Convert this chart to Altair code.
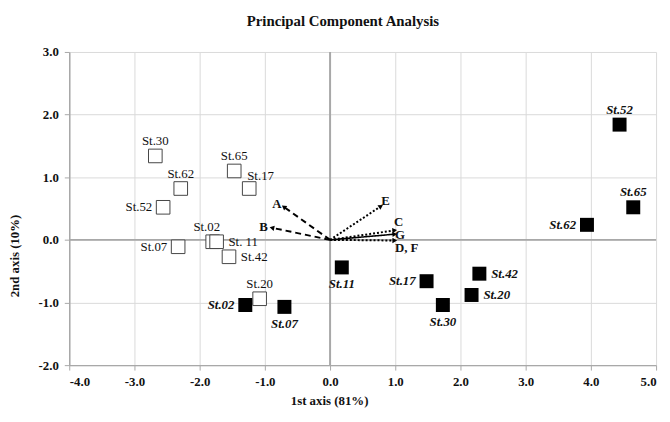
import math
import altair as alt
import pandas as pd

# ---- data ----
open_names = ["St.30", "St.62", "St.52", "St.65", "St.17", "St.02", "St. 11", "St.07", "St.42", "St.20"]
open_x = [-2.68, -2.29, -2.56, -1.47, -1.24, -1.80, -1.74, -2.33, -1.55, -1.08]
open_y = [1.34, 0.82, 0.52, 1.10, 0.82, -0.03, -0.03, -0.11, -0.27, -0.94]
open_label_pos = ["above", "above", "left", "above", "aboveright", "aboveleft", "right", "left", "right", "above"]

filled_names = ["St.52", "St.65", "St.62", "St.42", "St.20", "St.30", "St.17", "St.11", "St.02", "St.07"]
filled_x = [4.44, 4.65, 3.94, 2.29, 2.17, 1.73, 1.48, 0.18, -1.30, -0.70]
filled_y = [1.84, 0.52, 0.24, -0.54, -0.88, -1.04, -0.66, -0.44, -1.04, -1.07]
filled_label_pos = ["above", "above", "left", "right", "right", "below", "left", "below", "left", "below"]

vec_names = ["A", "B", "E", "C", "G", "D, F"]
vec_x = [-0.70, -0.88, 0.77, 0.98, 0.98, 0.98]
vec_y = [0.52, 0.19, 0.53, 0.15, 0.09, -0.01]
vec_style = ["dashed", "dashed", "dotted", "dotted", "solid", "dotted"]

x_ticks = [-4, -3, -2, -1, 0, 1, 2, 3, 4, 5]
y_ticks = [-2, -1, 0, 1, 2, 3]

# ---- styling (not data) ----
W, H = 594, 317
SERIF = "Liberation Serif"
label_offsets = {
    "above": dict(dx=0, dy=-15, align="center"),
    "aboveleft": dict(dx=-6, dy=-15, align="center"),
    "aboveright": dict(dx=-2, dy=-13, align="left"),
    "left": dict(dx=-11, dy=0, align="right"),
    "right": dict(dx=12, dy=0, align="left"),
    "below": dict(dx=0, dy=17, align="center"),
}
vec_label_offsets = {
    "A": dict(dx=-3, dy=-3, align="right"),
    "B": dict(dx=-5, dy=-1, align="right"),
    "E": dict(dx=1, dy=-6, align="left"),
    "C": dict(dx=0, dy=-9, align="left"),
    "G": dict(dx=1, dy=1, align="left"),
    "D, F": dict(dx=1, dy=8, align="left"),
}
dash = {"dashed": [6, 4], "dotted": [2, 2], "solid": [1, 0]}

pts = pd.DataFrame({
    "name": open_names + filled_names,
    "x": open_x + filled_x,
    "y": open_y + filled_y,
    "kind": ["open"] * len(open_names) + ["filled"] * len(filled_names),
    "pos": open_label_pos + filled_label_pos,
})

vec = pd.DataFrame({"name": vec_names, "x": vec_x, "y": vec_y, "style": vec_style})
vec["x0"] = 0.0
vec["y0"] = 0.0
vec["angle"] = [
    (math.degrees(math.atan2(a * W / 9.0, b * H / 5.0)) + 360) % 360 for a, b in zip(vec_x, vec_y)
]

xs = alt.Scale(domain=[-4, 5], nice=False, zero=False)
ys = alt.Scale(domain=[-2, 3], nice=False, zero=False)

lbl = "replace(format(datum.value, '.1f'), '\u2212', '-')"
X = alt.X("x:Q", scale=xs, axis=alt.Axis(
    values=x_ticks, labelExpr=lbl, title="1st axis (81%)",
    titleX=263, titleY=30, titleBaseline="top"))
Y = alt.Y("y:Q", scale=ys, axis=alt.Axis(
    values=y_ticks, labelExpr=lbl, title="2nd axis (10%)",
    titleX=-55, titleY=206, titleAngle=-90, titleBaseline="middle"))

base = alt.Chart(pts)

layers = []

# zero lines
zero_v = alt.Chart(pd.DataFrame({"x": [0]})).mark_rule(color="#a8a8a8", strokeWidth=2).encode(
    x=alt.X("x:Q", scale=xs))
zero_h = alt.Chart(pd.DataFrame({"y": [0]})).mark_rule(color="#a8a8a8", strokeWidth=2).encode(
    y=alt.Y("y:Q", scale=ys))
layers += [zero_v, zero_h]

# vectors
vbase = alt.Chart(vec)
for st in ["dashed", "dotted", "solid"]:
    layers.append(
        vbase.transform_filter(alt.datum.style == st).mark_rule(
            color="black", strokeWidth=2 if st != "solid" else 1.6, strokeDash=dash[st]
        ).encode(
            x=alt.X("x0:Q", scale=xs), y=alt.Y("y0:Q", scale=ys),
            x2="x:Q", y2="y:Q")
    )
layers.append(
    vbase.mark_point(shape="triangle", filled=True, color="black", size=30, opacity=1).encode(
        x=alt.X("x:Q", scale=xs), y=alt.Y("y:Q", scale=ys), angle=alt.Angle("angle:Q", scale=None))
)
for nm in vec_names:
    o = vec_label_offsets[nm]
    layers.append(
        vbase.transform_filter(alt.datum.name == nm).mark_text(
            font=SERIF, fontWeight="bold", fontSize=13, color="#111",
            baseline="middle", **o
        ).encode(x=alt.X("x:Q", scale=xs), y=alt.Y("y:Q", scale=ys), text="name:N")
    )

# squares
layers.append(
    base.transform_filter(alt.datum.kind == "open").mark_point(
        shape="square", size=190, filled=True, fill="white", stroke="#444", strokeWidth=1, opacity=1
    ).encode(x=X, y=Y)
)
layers.append(
    base.transform_filter(alt.datum.kind == "filled").mark_point(
        shape="square", size=200, filled=True, color="black", opacity=1
    ).encode(x=alt.X("x:Q", scale=xs), y=alt.Y("y:Q", scale=ys))
)

# point labels
for kind in ["open", "filled"]:
    for p, o in label_offsets.items():
        extra = dict(fontStyle="italic", fontWeight="bold") if kind == "filled" else {}
        layers.append(
            base.transform_filter((alt.datum.kind == kind) & (alt.datum.pos == p)).mark_text(
                font=SERIF, fontSize=13, color="#111", baseline="middle", **o, **extra
            ).encode(x=alt.X("x:Q", scale=xs), y=alt.Y("y:Q", scale=ys), text="name:N")
        )

chart = alt.layer(*layers).properties(
    width=W, height=H,
    autosize=alt.AutoSizeParams(type="none"),
    padding={"left": 62, "top": 42, "right": 6, "bottom": 50},
    title=alt.TitleParams("Principal Component Analysis", font=SERIF, fontSize=15,
                          fontWeight="bold", color="#111", dx=-20, offset=17),
).configure_view(stroke=None).configure_axis(
    labelFont=SERIF, labelFontWeight="bold", labelFontSize=13, labelColor="#111",
    titleFont=SERIF, titleFontWeight="bold", titleFontSize=13, titleColor="#111",
    gridColor="#d9d9d9", gridWidth=1, domainColor="#a8a8a8", domainWidth=1.5,
    tickColor="#a8a8a8", tickSize=5, labelPadding=6,
)

chart.save("out.html", embed_options={"renderer": "svg", "actions": False})
